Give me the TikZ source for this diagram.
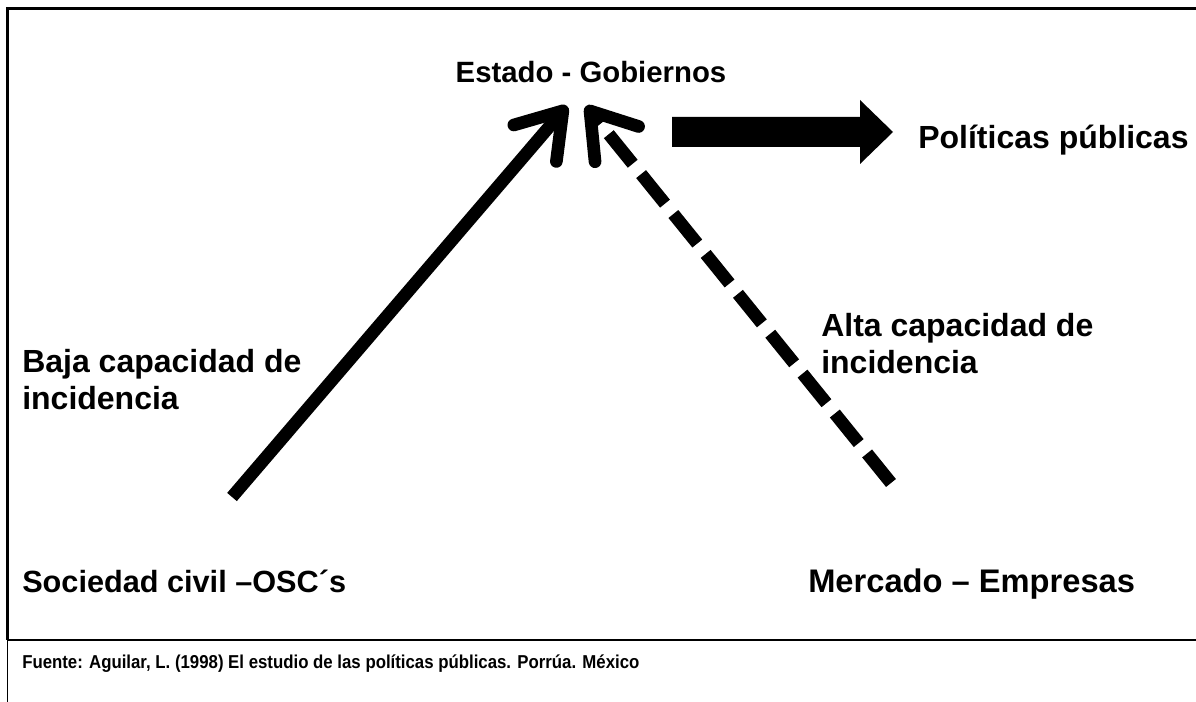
\documentclass[tikz,border=0pt]{standalone}
\usepackage{fontspec}
\setmainfont{Liberation Sans}
\newfontfamily\narrowfont{Liberation Sans}[FakeStretch=0.9]
\usetikzlibrary{arrows.meta}
\tikzstyle{lblNode} = [inner sep=0pt, anchor=base west, font=\bfseries\fontsize{22pt}{27.75pt}\selectfont]
\tikzstyle{capNode} = [lblNode, align=left, font=\bfseries\fontsize{24pt}{27.75pt}\selectfont]
\tikzstyle{srcNode} = [inner sep=0pt, anchor=base west, font=\narrowfont\bfseries\fontsize{14pt}{16pt}\selectfont]
\tikzstyle{frame} = [line width=2.2pt, draw=black]
\tikzstyle{arrowS} = [line width=9.5pt, -{Straight Barb[length=32pt, width=42pt, line cap=round, line join=round]}]
\tikzstyle{arrowD} = [arrowS, dash pattern=on 28.5pt off 10pt]

\begin{document}
\begin{tikzpicture}[x=0.75pt, y=-0.75pt]
    \useasboundingbox (0,0) rectangle (1196,702);
    % frame of the table
    \draw [frame] (7.5,8.5) -- (1196,8.5);
    \draw [frame] (7.5,7.5) -- (7.5,640);
    \draw [line width=1.4pt] (7.5,640) -- (7.5,702);
    \draw [line width=1.1pt] (7.5,640) -- (1196,640);

    \node (estado) [lblNode, anchor=base] at (591,83) {Estado - Gobiernos};
    \node (politicas) [lblNode, font=\bfseries\fontsize{24pt}{27.75pt}\selectfont] at (918,149) {Políticas públicas};
    \node (civil) [lblNode, font=\bfseries\fontsize{23pt}{27.75pt}\selectfont] at (22,592) {Sociedad civil –OSC´s};
    \node (mercado) [lblNode, font=\bfseries\fontsize{24.5pt}{27.75pt}\selectfont] at (808,592) {Mercado – Empresas};
    \node (baja) [capNode, anchor=north west] at (22,349) {Baja capacidad de\\incidencia};
    \node (alta) [capNode, anchor=north west] at (821,313) {Alta capacidad de\\incidencia};
    \node (fuente) [srcNode] at (22,668) {Fuente: Aguilar, L. (1998) El estudio de las políticas públicas. Porrúa. México};

    \coordinate (civilTop) at (232,497);
    \coordinate (mercadoTop) at (891,483);
    \coordinate (estadoL) at (567,106);
    \coordinate (estadoR) at (586,106);

    \draw [arrowS] (civilTop) -- (estadoL);
    \draw [arrowD] (mercadoTop) -- (estadoR);

    % block arrow to the policies
    \fill (672,117) -- (860,117) -- (860,100) -- (893,132) -- (860,164) -- (860,147) -- (672,147) -- cycle;
\end{tikzpicture}
\end{document}
